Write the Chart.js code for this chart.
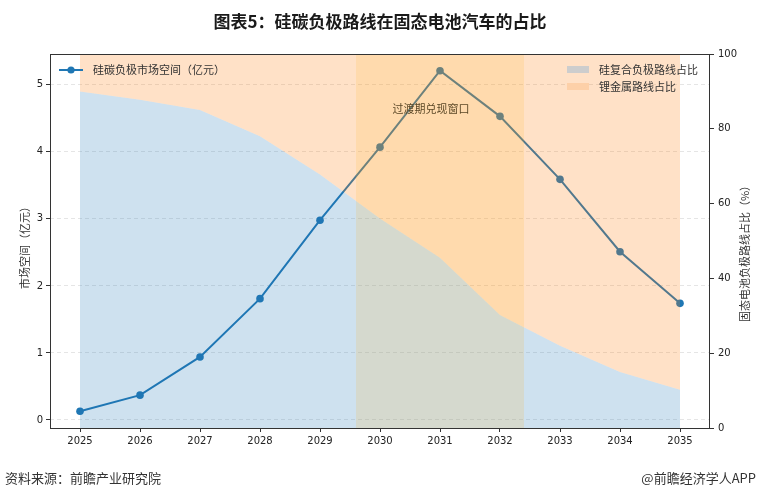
<!DOCTYPE html>
<html>
<head>
<meta charset="utf-8">
<script src="https://cdn.jsdelivr.net/npm/chart.js@4.4.1/dist/chart.umd.min.js"></script>
<style>
  html, body { margin: 0; padding: 0; background: #fff; }
  #wrap { position: relative; width: 760px; height: 498px; overflow: hidden; }
  #chart { position: absolute; left: 0; top: 0; }
  .title { position: absolute; left: 0; top: 8px; width: 760px; text-align: center;
           font: bold 17px "Noto Sans CJK SC"; color: #1a1a1a; }
  .note { position: absolute; top: 468px; font: 13px "Noto Sans CJK SC"; color: #333; }
</style>
</head>
<body>
<div id="wrap">
  <canvas id="chart" width="760" height="498"></canvas>
  <div class="title">图表5：硅碳负极路线在固态电池汽车的占比</div>
  <div class="note" style="left:5px">资料来源：前瞻产业研究院</div>
  <div class="note" style="right:4px">@前瞻经济学人APP</div>
</div>
<script>
var years = [2025, 2026, 2027, 2028, 2029, 2030, 2031, 2032, 2033, 2034, 2035];
// 硅碳负极市场空间（亿元）
var marketSize = [0.13, 0.37, 0.94, 1.81, 2.98, 4.07, 5.21, 4.53, 3.59, 2.51, 1.74];
// 硅复合负极路线占比（%），上方到100为锂金属路线
var siShare = [90, 87.8, 85, 78, 67.8, 56, 45.5, 30.2, 22, 15, 10.2];
var windowRange = [2029.6, 2032.4];
var windowLabel = '过渡期兑现窗口';

var cjk = '"Noto Sans CJK SC", sans-serif';

var bandPlugin = {
  id: 'band',
  afterDatasetsDraw: function(chart) {
    var ctx = chart.ctx, a = chart.chartArea, x = chart.scales.x, y = chart.scales.y;
    ctx.save();
    // window label
    ctx.font = '11px ' + cjk;
    ctx.fillStyle = '#3b3226';
    ctx.textAlign = 'center';
    ctx.textBaseline = 'middle';
    ctx.fillText(windowLabel, x.getPixelForValue(2030.85), y.getPixelForValue(4.64));
    // shaded window
    var x0 = x.getPixelForValue(windowRange[0]);
    var x1 = x.getPixelForValue(windowRange[1]);
    ctx.fillStyle = 'rgba(255,180,40,0.16)';
    ctx.fillRect(x0, a.top, x1 - x0, a.bottom - a.top);
    ctx.restore();
  },
  afterDraw: function(chart) {
    var ctx = chart.ctx, a = chart.chartArea;
    ctx.save();
    // frame
    ctx.strokeStyle = '#333';
    ctx.lineWidth = 1;
    ctx.strokeRect(a.left + 0.5, a.top + 0.5, a.right - a.left - 1, a.bottom - a.top);

    // legend left
    ctx.strokeStyle = '#1f77b4';
    ctx.lineWidth = 2;
    ctx.beginPath();
    ctx.moveTo(a.left + 9, a.top + 16);
    ctx.lineTo(a.left + 33, a.top + 16);
    ctx.stroke();
    ctx.fillStyle = '#1f77b4';
    ctx.beginPath();
    ctx.arc(a.left + 21, a.top + 16, 3.6, 0, Math.PI * 2);
    ctx.fill();
    ctx.font = '11px ' + cjk;
    ctx.fillStyle = '#333';
    ctx.textBaseline = 'middle';
    ctx.fillText('硅碳负极市场空间（亿元）', a.left + 43, a.top + 16);

    // legend right
    ctx.fillStyle = '#cdcdcd';
    ctx.fillRect(a.right - 143, a.top + 12, 22, 7);
    ctx.fillStyle = '#fdd0a8';
    ctx.fillRect(a.right - 143, a.top + 29, 22, 7);
    ctx.fillStyle = '#333';
    ctx.fillText('硅复合负极路线占比', a.right - 111, a.top + 16);
    ctx.fillText('锂金属路线占比', a.right - 111, a.top + 32.5);

    // axis titles
    ctx.textAlign = 'center';
    ctx.translate(25, (a.top + a.bottom) / 2 + 4);
    ctx.rotate(-Math.PI / 2);
    ctx.fillText('市场空间（亿元）', 0, 0);
    ctx.restore();
    ctx.save();
    ctx.font = '11px ' + cjk;
    ctx.fillStyle = '#333';
    ctx.textAlign = 'center';
    ctx.textBaseline = 'middle';
    ctx.translate(745, (a.top + a.bottom) / 2 + 10);
    ctx.rotate(-Math.PI / 2);
    ctx.fillText('固态电池负极路线占比（%）', 0, 0);
    ctx.restore();
  }
};

var tickFont = { family: 'DejaVu Sans', size: 10 };

new Chart(document.getElementById('chart'), {
  type: 'line',
  data: {
    datasets: [{
      label: '硅碳负极市场空间（亿元）',
      data: years.map(function(yr, i) { return { x: yr, y: marketSize[i] }; }),
      yAxisID: 'y',
      borderColor: '#1f77b4',
      backgroundColor: '#1f77b4',
      borderWidth: 2,
      pointRadius: 3.8,
      pointBorderWidth: 0,
      fill: false,
      order: 3
    }, {
      label: '硅复合负极路线占比',
      data: years.map(function(yr, i) { return { x: yr, y: siShare[i] }; }),
      yAxisID: 'y1',
      borderWidth: 0,
      pointRadius: 0,
      backgroundColor: 'rgba(31,119,180,0.22)',
      fill: 'origin',
      order: 2
    }, {
      label: '锂金属路线占比',
      data: years.map(function(yr, i) { return { x: yr, y: siShare[i] }; }),
      yAxisID: 'y1',
      borderWidth: 0,
      pointRadius: 0,
      backgroundColor: 'rgba(255,127,14,0.23)',
      fill: 'end',
      order: 1
    }]
  },
  options: {
    responsive: false,
    animation: false,
    events: [],
    layout: { padding: { top: 54, left: 0, right: 0, bottom: 0 } },
    plugins: {
      legend: { display: false },
      tooltip: { enabled: false }
    },
    scales: {
      x: {
        type: 'linear',
        min: 2024.5,
        max: 2035.5,
        afterBuildTicks: function(s) { s.ticks = years.map(function(v) { return { value: v }; }); },
        afterFit: function(s) { s.height = 70; },
        border: { display: false },
        grid: { drawOnChartArea: false, tickLength: 4, tickColor: '#333', tickWidth: 1 },
        ticks: { font: tickFont, color: '#222', padding: 3, maxRotation: 0,
                 callback: function(v) { return String(v); } }
      },
      y: {
        position: 'left',
        min: -0.12,
        max: 5.46,
        afterFit: function(s) { s.width = 50; },
        border: { display: false, dash: [4, 3] },
        grid: { color: 'rgba(160,160,160,0.35)', lineWidth: 0.8, tickLength: 4,
                tickColor: '#333', tickWidth: 1, tickBorderDash: [] },
        ticks: { stepSize: 1, includeBounds: false, font: tickFont, color: '#222', padding: 3,
                 callback: function(v) { return String(v); } }
      },
      y1: {
        position: 'right',
        min: 0,
        max: 100,
        afterFit: function(s) { s.width = 50; },
        border: { display: false },
        grid: { drawOnChartArea: false, tickLength: 4, tickColor: '#333', tickWidth: 1 },
        ticks: { stepSize: 20, font: tickFont, color: '#222', padding: 4,
                 callback: function(v) { return String(v); } }
      }
    }
  },
  plugins: [bandPlugin]
});
</script>
</body>
</html>
